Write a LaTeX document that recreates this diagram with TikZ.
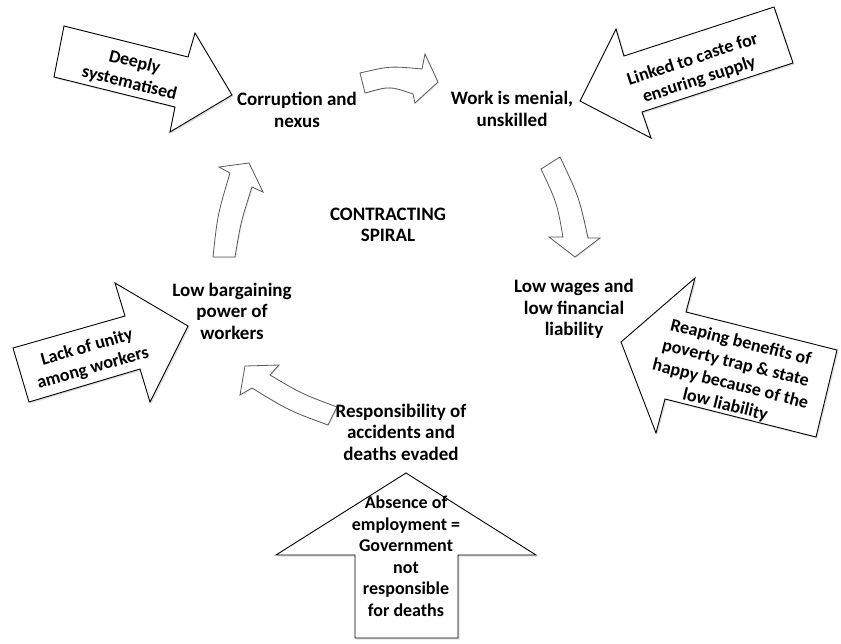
\documentclass[tikz,border=0pt]{standalone}
\usepackage{fontspec}
\setmainfont{Carlito}
\usetikzlibrary{shadows}
\tikzset{
  cyclelabel/.style={font=\fontsize{19}{21.5}\selectfont\bfseries, align=center, inner sep=0pt},
  arrowtext/.style={font=\fontsize{18}{21.5}\selectfont\bfseries, align=center, inner sep=0pt},
  bigarrow/.style={draw=black, fill=white, line width=0.9pt,
    drop shadow={shadow xshift=1.5pt, shadow yshift=-1.5pt, opacity=0.25}},
  curvearrow/.style={draw=black!65, fill=white, line width=0.8pt,
    drop shadow={shadow xshift=1pt, shadow yshift=-1pt, opacity=0.2}}
}
\begin{document}
\begin{tikzpicture}[x=1pt,y=-1pt]
  \useasboundingbox (0,0) rectangle (841,643);
  \draw[bigarrow] (64,26) -- (188,57) -- (195,33) -- (232,95) -- (170,132) -- (175,107) -- (54,77) -- cycle;
  \draw[bigarrow] (774,7) -- (624,56) -- (616,29) -- (580,101) -- (651,138) -- (642,112) -- (793,63) -- cycle;
  \draw[bigarrow] (837,350) -- (686,312) -- (695,278) -- (621,342) -- (656,433) -- (665,399) -- (816,437) -- cycle;
  \draw[bigarrow] (13,348) -- (125,316) -- (115,283) -- (188,326) -- (150,402) -- (140,369) -- (29,402) -- cycle;
  \draw[bigarrow] (355,638) -- (355,555) -- (276,555) -- (406,473) -- (536,555) -- (458,555) -- (458,638) -- cycle;

  \draw[curvearrow] (360,73) .. controls (390,66) .. (422,69) -- (425,54) -- (438,82) -- (415,103) -- (413,94) .. controls (390,86) .. (365,93) -- cycle;
  \draw[curvearrow] (560,157) .. controls (579,197) .. (588,238) -- (600,238) -- (575,257) -- (549,237) -- (563,237) .. controls (557,203) .. (541,169) -- cycle;
  \draw[curvearrow] (337,407) .. controls (301.5,393.7) .. (270,375) -- (279,365) -- (245,366) -- (240,395) -- (252,388) .. controls (288.7,410.5) .. (328,425) -- cycle;
  \draw[curvearrow] (235,257) .. controls (240.8,222) .. (252,187) -- (263,192) -- (249,163) -- (219,167) -- (230,173) .. controls (217.5,215) .. (213,257) -- cycle;

  \node[arrowtext, rotate=-14] (deeply) at (132,73) {Deeply\\systematised};
  \node[arrowtext, rotate=18] (linked) at (696,70) {Linked to caste for\\ensuring supply};
  \node[arrowtext, rotate=-14] (reaping) at (733,374) {Reaping benefits of\\poverty trap \& state\\happy because of the\\low liability};
  \node[arrowtext, rotate=16] (lack) at (90,358) {Lack of unity\\among workers};
  \node[arrowtext] (absence) at (406,556) {Absence of\\employment =\\Government\\not\\responsible\\for deaths};

  \node[cyclelabel] (corr) at (297,110) {Corruption and\\nexus};
  \node[cyclelabel] (work) at (512,109) {Work is menial,\\unskilled};
  \node[cyclelabel] (spiral) at (388,225) {CONTRACTING\\SPIRAL};
  \node[cyclelabel] (wages) at (574,309) {Low wages and\\low financial\\liability};
  \node[cyclelabel] (resp) at (401,432) {Responsibility of\\accidents and\\deaths evaded};
  \node[cyclelabel] (barg) at (232,311) {Low bargaining\\power of\\workers};
\end{tikzpicture}
\end{document}
